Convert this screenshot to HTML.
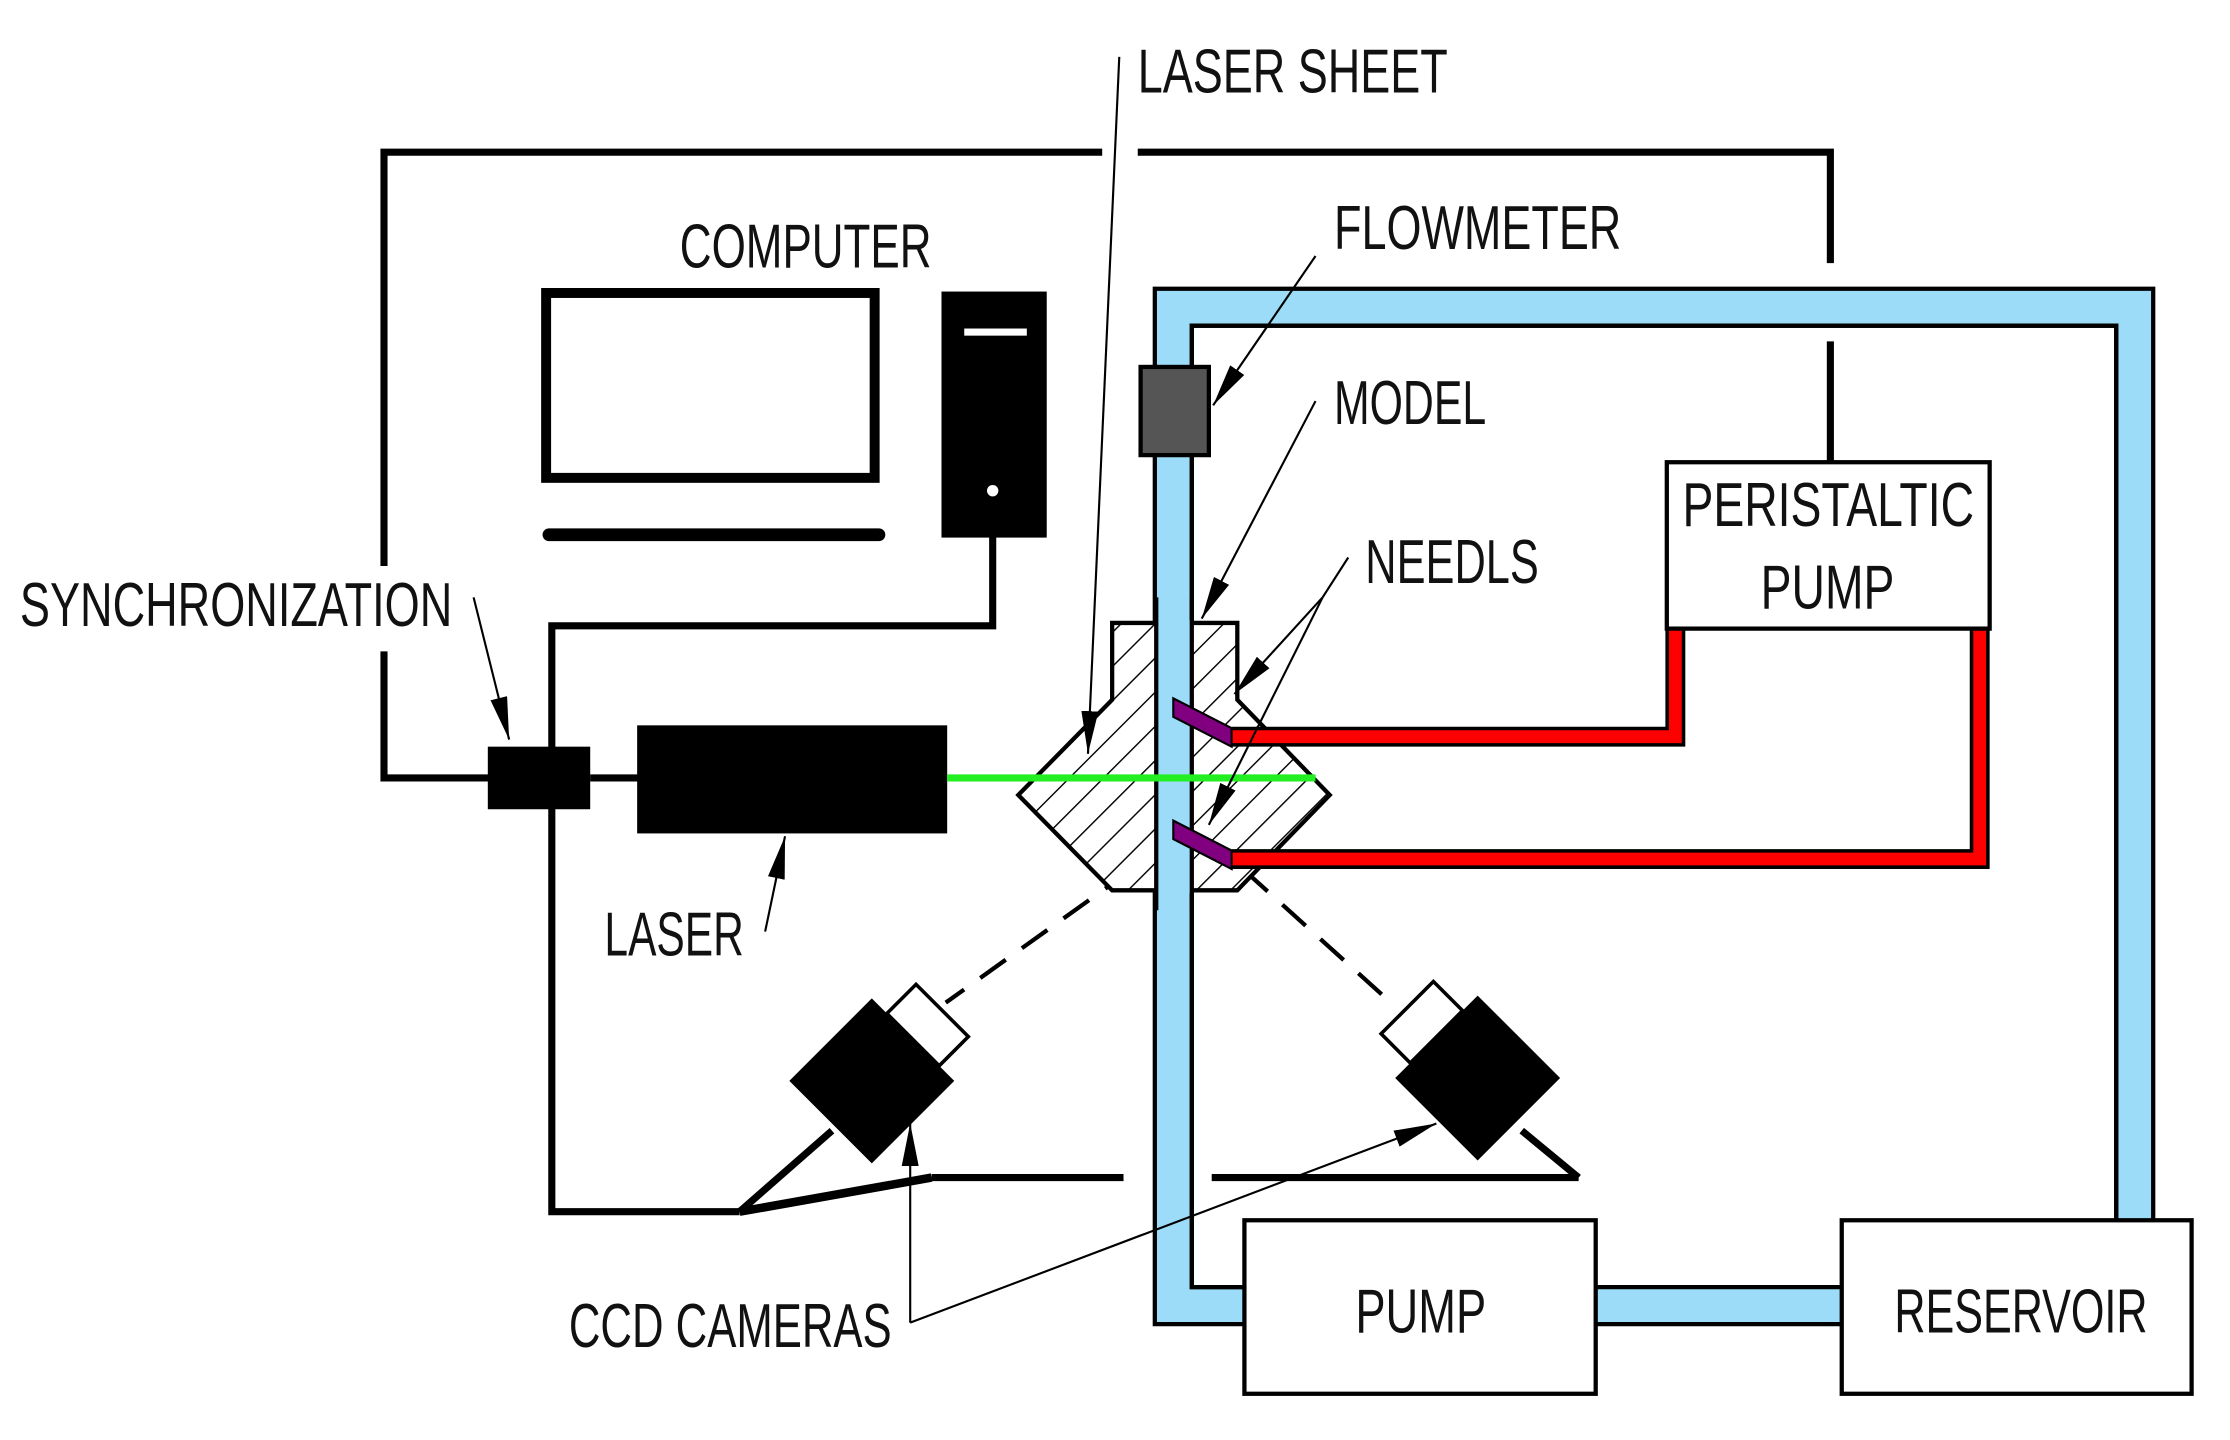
<!DOCTYPE html>
<html><head><meta charset="utf-8"><style>
html,body{margin:0;padding:0;background:#fff;}
svg{display:block;}
text{font-family:"Liberation Sans",sans-serif;fill:#111;}
</style></head><body>
<svg width="2230" height="1440" viewBox="0 0 1568 1012.5" preserveAspectRatio="none" xmlns="http://www.w3.org/2000/svg">
<defs>
<pattern id="h" patternUnits="userSpaceOnUse" width="17" height="17" patternTransform="rotate(45)">
<rect width="17" height="17" fill="#fff"/><line x1="0" y1="0" x2="0" y2="17" stroke="#000" stroke-width="2"/></pattern>
<marker id="A" viewBox="0 0 30 12" refX="30" refY="6" markerWidth="30" markerHeight="12" orient="auto" markerUnits="userSpaceOnUse"><path d="M0,0 L30,6 L0,12 Z" fill="#000"/></marker>
</defs>
<g stroke="#000" fill="none" stroke-width="5">
<polyline points="270,398 270,107 775,107"/>
<polyline points="800,107 1287,107 1287,185"/>
<line x1="1287" y1="240" x2="1287" y2="325"/>
<polyline points="270,458 270,547 345,547"/>
<line x1="415" y1="547" x2="450" y2="547"/>
<polyline points="698,377 698,440 388,440 388,852 520,852"/>
<line x1="520" y1="852" x2="655" y2="828" stroke-width="6"/>
<line x1="655" y1="828" x2="790" y2="828"/>
<line x1="852" y1="828" x2="1110" y2="828"/>
<rect x="384" y="206" width="231" height="130" stroke-width="7"/>
<line x1="386" y1="376" x2="618" y2="376" stroke-width="9" stroke-linecap="round"/>
</g>
<rect x="662" y="205" width="74" height="173" fill="#000"/>
<rect x="678" y="231" width="44" height="5" fill="#fff"/>
<circle cx="698" cy="345" r="4" fill="#fff"/>
<rect x="343" y="525" width="72" height="44" fill="#000"/>
<rect x="448" y="510" width="218" height="76" fill="#000"/>
<g stroke="#000" stroke-width="5" fill="none">
<polyline points="520,852 585,795"/>
<polyline points="1070,795 1110,828"/>
</g>
<g stroke="#000" stroke-width="3" stroke-dasharray="22,14" fill="none">
<line x1="795" y1="612" x2="665" y2="705"/>
<line x1="875" y1="612" x2="978" y2="705"/>
</g>
<g transform="translate(613,760) rotate(45)">
<rect x="-41" y="-41" width="82" height="82" fill="#000"/>
<rect x="-26" y="-70" width="52" height="29" fill="#fff" stroke="#000" stroke-width="2.5"/>
</g>
<g transform="translate(1039,758) rotate(45)">
<rect x="-41" y="-41" width="82" height="82" fill="#000"/>
<rect x="-70" y="-26" width="29" height="52" fill="#fff" stroke="#000" stroke-width="2.5"/>
</g>
<path d="M875,918 H825 V216 H1501 V858 M1122,918 H1295" stroke="#000" stroke-width="29" fill="none" stroke-linejoin="miter"/>
<path d="M875,918 H825 V216 H1501 V858 M1122,918 H1295" stroke="#9ddcf8" stroke-width="23" fill="none" stroke-linejoin="miter"/>
<path d="M875,905 H838 V229 H1488 V858" stroke="#000" stroke-width="3" fill="none"/>
<polygon points="782,438 870,438 870,492 935,559 870,626 782,626 716,559 782,492" fill="url(#h)" stroke="#000" stroke-width="3"/>
<rect x="813" y="436" width="25" height="192" fill="#9ddcf8"/>
<line x1="813" y1="420" x2="813" y2="640" stroke="#000" stroke-width="3"/>
<line x1="838" y1="420" x2="838" y2="640" stroke="#000" stroke-width="3"/>
<path d="M866,518 H1178 V442 M866,604 H1392 V442" stroke="#000" stroke-width="14" fill="none"/>
<path d="M866,518 H1178 V442 M866,604 H1392 V442" stroke="#f00" stroke-width="9" fill="none"/>
<polygon points="825,491 866,512 866,525 825,504" fill="#800080" stroke="#000" stroke-width="1.5"/>
<polygon points="825,577 866,598 866,611 825,590" fill="#800080" stroke="#000" stroke-width="1.5"/>
<line x1="666" y1="547" x2="925" y2="547" stroke="#22ee22" stroke-width="5"/>
<rect x="802" y="258" width="48" height="62" fill="#555" stroke="#000" stroke-width="3"/>
<g fill="#fff" stroke="#000" stroke-width="3">
<rect x="1172" y="325" width="227" height="117"/>
<rect x="875" y="858" width="247" height="122"/>
<rect x="1295" y="858" width="246" height="122"/>
</g>
<g stroke="#000" stroke-width="1.5" fill="none" marker-end="url(#A)">
<line x1="787" y1="40" x2="765" y2="530"/>
<line x1="925" y1="180" x2="853" y2="285"/>
<line x1="925" y1="282" x2="845" y2="435"/>
<line x1="930" y1="420" x2="868" y2="488"/>
<line x1="930" y1="420" x2="850" y2="580"/>
<line x1="333" y1="420" x2="358" y2="520"/>
<line x1="538" y1="655" x2="552" y2="588"/>
<line x1="640" y1="930" x2="640" y2="790"/>
<line x1="640" y1="930" x2="1010" y2="790"/>
</g>
<line x1="948" y1="392" x2="930" y2="420" stroke="#000" stroke-width="1.5"/>
<g font-size="44">
<text x="800" y="65" textLength="218" lengthAdjust="spacingAndGlyphs">LASER SHEET</text>
<text x="478" y="188" textLength="177" lengthAdjust="spacingAndGlyphs">COMPUTER</text>
<text x="938" y="175" textLength="202" lengthAdjust="spacingAndGlyphs">FLOWMETER</text>
<text x="938" y="298" textLength="107" lengthAdjust="spacingAndGlyphs">MODEL</text>
<text x="960" y="410" textLength="122" lengthAdjust="spacingAndGlyphs">NEEDLS</text>
<text x="14" y="440" textLength="304" lengthAdjust="spacingAndGlyphs">SYNCHRONIZATION</text>
<text x="425" y="672" textLength="98" lengthAdjust="spacingAndGlyphs">LASER</text>
<text x="400" y="947" textLength="227" lengthAdjust="spacingAndGlyphs">CCD CAMERAS</text>
<text x="953" y="937" textLength="92" lengthAdjust="spacingAndGlyphs">PUMP</text>
<text x="1332" y="937" textLength="178" lengthAdjust="spacingAndGlyphs">RESERVOIR</text>
<text x="1183" y="370" textLength="205" lengthAdjust="spacingAndGlyphs">PERISTALTIC</text>
<text x="1238" y="428" textLength="94" lengthAdjust="spacingAndGlyphs">PUMP</text>
</g>
</svg>
</body></html>
